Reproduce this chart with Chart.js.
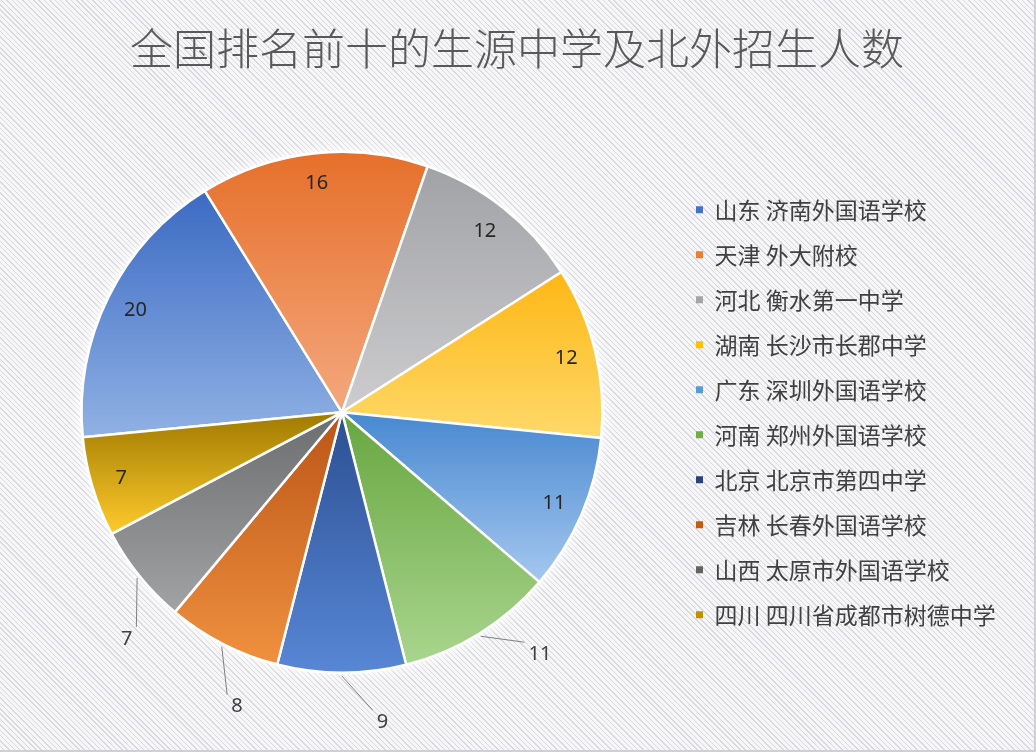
<!DOCTYPE html>
<html lang="zh-CN">
<head>
<meta charset="utf-8">
<title>全国排名前十的生源中学及北外招生人数</title>
<script src="https://cdn.jsdelivr.net/npm/chart.js@4.4.1/dist/chart.umd.min.js"></script>
<style>
  html, body { margin: 0; padding: 0; }
  body {
    width: 1036px; height: 752px; overflow: hidden;
    background: repeating-linear-gradient(45deg, #d8d8dd 0px, #d8d8dd 1px, #f6f6f8 1px, #f6f6f8 3.8px);
  }
  #wrap { position: relative; width: 1034px; height: 750px; border-right: 2px solid #cfcfd4; border-bottom: 2px solid #cfcfd4; }
</style>
</head>
<body>
<div id="wrap"><canvas id="pie"></canvas></div>
<script>
// chart data
const schools = [
    '山东 济南外国语学校',
    '天津 外大附校',
    '河北 衡水第一中学',
    '湖南 长沙市长郡中学',
    '广东 深圳外国语学校',
    '河南 郑州外国语学校',
    '北京 北京市第四中学',
    '吉林 长春外国语学校',
    '山西 太原市外国语学校',
    '四川 四川省成都市树德中学'
];
const students = [20, 16, 12, 12, 11, 11, 9, 8, 7, 7];

// gradient fill, darker at the top of each slice and lighter at the bottom
const topColors = ['#3b6ac3', '#e66f2a', '#a1a2a5', '#fdb714', '#4788d0', '#68a640', '#2b4f92', '#bb5517', '#6c6d6f', '#a07a00'];
const bottomColors = ['#90b1e4', '#f4a87e', '#cdcdd0', '#ffd96a', '#a6c8ef', '#a9d68e', '#5887d6', '#f0913f', '#a2a3a5', '#ffcb2c'];
const legendColors = ['#4472c4', '#ed7d31', '#a5a5a5', '#ffc000', '#5b9bd5', '#70ad47', '#264478', '#c55a11', '#636363', '#bf9000'];

// labels drawn outside the pie with a leader line
const outsideLabel = [false, false, false, false, false, true, true, true, true, false];

const firstSliceAngle = 264.5;
const legendWidth = 350;

function sliceGradient(context) {
    const i = context.dataIndex;
    const chart = context.chart;
    const area = chart.chartArea;
    if (!area || i === undefined) return legendColors[i] || legendColors[0];
    const cx = (area.left + area.right) / 2;
    const cy = (area.top + area.bottom) / 2;
    const r = Math.min(area.width, area.height) / 2;
    const total = students.reduce((a, b) => a + b, 0);
    let before = 0;
    for (let k = 0; k < i; k++) before += students[k];
    const a0 = (firstSliceAngle - 90) * Math.PI / 180 + before / total * 2 * Math.PI;
    const a1 = a0 + students[i] / total * 2 * Math.PI;
    let minY = cy, maxY = cy;
    for (let s = 0; s <= 30; s++) {
        const y = cy + r * Math.sin(a0 + (a1 - a0) * s / 30);
        minY = Math.min(minY, y);
        maxY = Math.max(maxY, y);
    }
    const g = chart.ctx.createLinearGradient(0, minY, 0, maxY);
    g.addColorStop(0, topColors[i]);
    g.addColorStop(1, bottomColors[i]);
    return g;
}

const sliceLabels = {
    id: 'sliceLabels',
    beforeLayout(chart) {
        // give the legend box a fixed width so the title stays centred on the page
        const lg = chart.legend;
        if (lg && !lg._fixedWidth) {
            const fit = lg.fit;
            lg.fit = function () {
                fit.call(this);
                if (this.options.display) this.width = legendWidth;
            };
            lg._fixedWidth = true;
        }
    },
    beforeDatasetsDraw(chart) {
        // soft white glow around the pie
        const arc = chart.getDatasetMeta(0).data[0];
        if (!arc) return;
        const ctx = chart.ctx;
        ctx.save();
        ctx.shadowColor = 'rgba(255,255,255,1)';
        ctx.shadowBlur = 14;
        ctx.fillStyle = '#ffffff';
        ctx.beginPath();
        ctx.arc(arc.x, arc.y, arc.outerRadius + 1, 0, Math.PI * 2);
        ctx.fill();
        ctx.restore();
    },
    afterDatasetsDraw(chart) {
        const ctx = chart.ctx;
        const arcs = chart.getDatasetMeta(0).data;
        ctx.save();
        ctx.font = '20px "Noto Sans", "Noto Sans CJK SC", sans-serif';
        ctx.textAlign = 'center';
        ctx.textBaseline = 'middle';
        arcs.forEach((arc, i) => {
            const mid = (arc.startAngle + arc.endAngle) / 2;
            const r = arc.outerRadius;
            const text = String(students[i]);
            if (!outsideLabel[i]) {
                ctx.fillStyle = '#262626';
                ctx.fillText(text, arc.x + Math.cos(mid) * r * 0.885, arc.y + Math.sin(mid) * r * 0.885);
                return;
            }
            const la = mid - 7.5 * Math.PI / 180;
            const tx = arc.x + Math.cos(la) * r * 1.2;
            const ty = arc.y + Math.sin(la) * r * 1.2;
            const ex = arc.x + Math.cos(mid) * (r + 3);
            const ey = arc.y + Math.sin(mid) * (r + 3);
            const hw = ctx.measureText(text).width / 2 + 4;
            const hh = 12;
            const px = Math.min(Math.max(ex, tx - hw), tx + hw);
            const py = Math.min(Math.max(ey, ty - hh), ty + hh);
            ctx.strokeStyle = '#7f7f7f';
            ctx.lineWidth = 1;
            ctx.beginPath();
            ctx.moveTo(ex, ey);
            ctx.lineTo(px, py);
            ctx.stroke();
            ctx.fillStyle = '#404040';
            ctx.fillText(text, tx, ty);
        });
        ctx.restore();
    }
};

new Chart(document.getElementById('pie'), {
    type: 'pie',
    data: {
        labels: schools,
        datasets: [{
            data: students,
            backgroundColor: sliceGradient,
            borderColor: '#ffffff',
            borderWidth: 2.5
        }]
    },
    options: {
        responsive: true,
        maintainAspectRatio: false,
        animation: false,
        rotation: firstSliceAngle,
        layout: {
            padding: { left: 10, right: 10, bottom: 76 }
        },
        plugins: {
            title: {
                display: true,
                text: '全国排名前十的生源中学及北外招生人数',
                color: '#595959',
                font: { family: '"Noto Sans CJK SC", sans-serif', size: 43, weight: '300' },
                padding: { top: 23, bottom: 76 }
            },
            legend: {
                position: 'right',
                fullSize: false,
                labels: {
                    color: '#404040',
                    font: { family: '"Noto Sans CJK SC", sans-serif', size: 23 },
                    boxWidth: 7,
                    boxHeight: 7,
                    padding: 22,
                    generateLabels() {
                        return schools.map((name, i) => ({
                            text: name,
                            fillStyle: legendColors[i],
                            strokeStyle: legendColors[i],
                            fontColor: '#404040',
                            lineWidth: 0,
                            hidden: false,
                            index: i
                        }));
                    }
                }
            },
            tooltip: { enabled: false }
        }
    },
    plugins: [sliceLabels]
});
</script>
</body>
</html>
